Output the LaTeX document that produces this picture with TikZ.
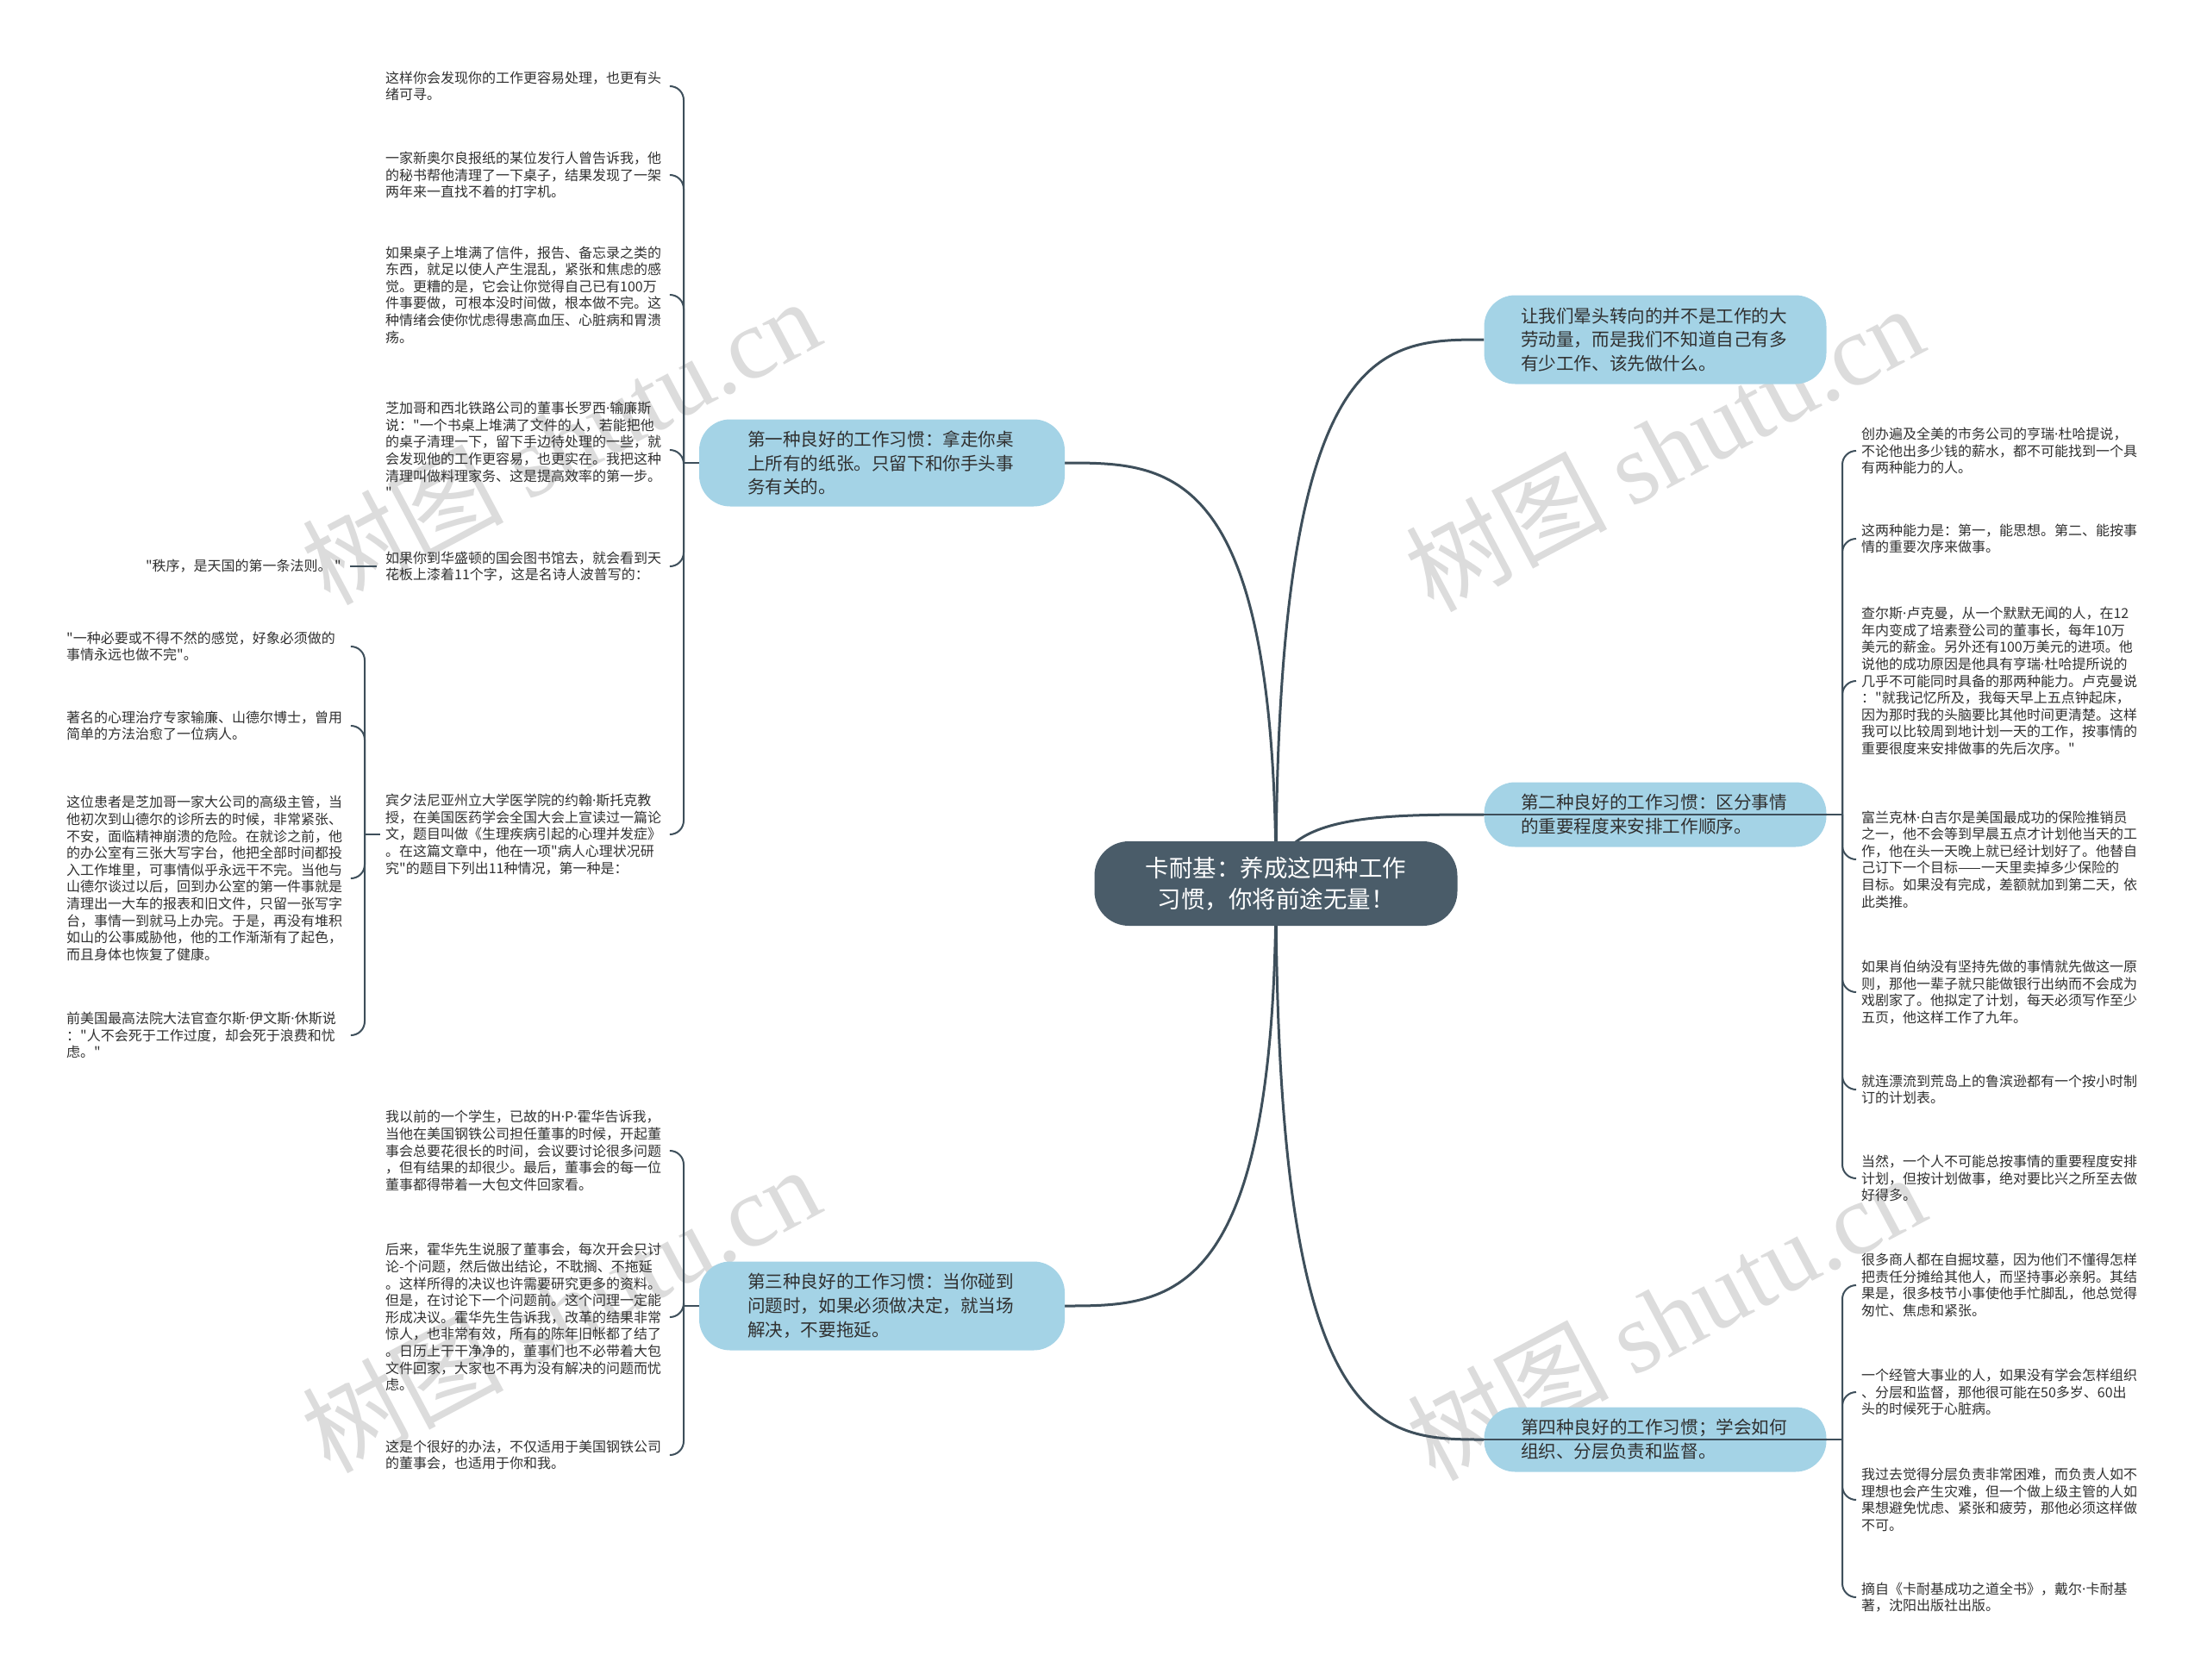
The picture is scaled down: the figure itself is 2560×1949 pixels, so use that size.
\documentclass[tikz,border=0pt]{standalone}
\usepackage{fontspec}
\newfontfamily\cjkmain{Noto Sans CJK SC}
\newfontfamily\latinpart{Noto Sans}
\newfontfamily\wmserif{Liberation Serif}
\newcommand{\mdot}{{\latinpart ·}}
\usetikzlibrary{backgrounds}
\definecolor{hubfill}{HTML}{4A5C69}
\definecolor{branchfill}{HTML}{A4D3E6}
\definecolor{wire}{HTML}{3E4F5B}
\definecolor{ink}{HTML}{303030}
\definecolor{wmgray}{HTML}{DCDCDC}
\begin{document}
\begin{tikzpicture}[x=1pt,y=-1pt,
  hubnode/.style={fill=hubfill,text=white,rounded corners=40pt,minimum width=421pt,minimum height=98pt,align=center,inner sep=0pt,font=\cjkmain\fontsize{27.5}{36}\selectfont},
  branchwide/.style={fill=branchfill,text=ink,rounded corners=36pt,text width=312pt,align=left,inner xsep=56pt,inner ysep=0pt,font=\cjkmain\fontsize{20.6}{27.8}\selectfont},
  branchnarrow/.style={branchwide,inner xsep=42.5pt},
  leaf/.style={text=ink,text width=324pt,align=left,inner xsep=6pt,inner ysep=2pt,anchor=west,font=\cjkmain\fontsize{16}{19.6}\selectfont},
  mainwire/.style={draw=wire,line width=3pt},
  leafwire/.style={draw=wire,line width=2pt,rounded corners=16pt},
  watermark/.style={text=wmgray,rotate=28,font=\cjkmain\fontsize{117}{117}\selectfont}]
\useasboundingbox (0,0) rectangle (2560,1949);

% hub and branches
\node[hubnode] (hub) at (1480,1025) {卡耐基：养成这四种工作\\习惯，你将前途无量！};
\node[branchwide,minimum height=101pt] (b1) at (1023,537) {第一种良好的工作习惯：拿走你桌\\上所有的纸张。只留下和你手头事\\务有关的。};
\node[branchnarrow,minimum height=103pt] (b2) at (1920,394) {让我们晕头转向的并不是工作的大\\劳动量，而是我们不知道自己有多\\有少工作、该先做什么。};
\node[branchnarrow,minimum height=75pt] (b3) at (1920,945) {第二种良好的工作习惯：区分事情\\的重要程度来安排工作顺序。};
\node[branchwide,minimum height=103pt] (b4) at (1023,1515) {第三种良好的工作习惯：当你碰到\\问题时，如果必须做决定，就当场\\解决，不要拖延。};
\node[branchnarrow,minimum height=75pt] (b5) at (1920,1670) {第四种良好的工作习惯；学会如何\\组织、分层负责和监督。};

% junctions
\coordinate (j1) at (793,537);
\coordinate (j6) at (423,968);
\coordinate (j4) at (793,1515);
\coordinate (j3) at (2137,945);
\coordinate (j5) at (2137,1670);

% leaves of branch 1
\node[leaf] (l1) at (441,100) {这样你会发现你的工作更容易处理，也更有头\\绪可寻。};
\node[leaf] (l2) at (441,203) {一家新奥尔良报纸的某位发行人曾告诉我，他\\的秘书帮他清理了一下桌子，结果发现了一架\\两年来一直找不着的打字机。};
\node[leaf] (l3) at (441,342) {如果桌子上堆满了信件，报告、备忘录之类的\\东西，就足以使人产生混乱，紧张和焦虑的感\\觉。更糟的是，它会让你觉得自己已有100万\\件事要做，可根本没时间做，根本做不完。这\\种情绪会使你忧虑得患高血压、心脏病和胃溃\\疡。};
\node[leaf] (l4) at (441,522) {芝加哥和西北铁路公司的董事长罗西\mdot 输廉斯\\说："一个书桌上堆满了文件的人，若能把他\\的桌子清理一下，留下手边待处理的一些，就\\会发现他的工作更容易，也更实在。我把这种\\清理叫做料理家务、这是提高效率的第一步。\\"};
\node[leaf] (l5) at (441,657) {如果你到华盛顿的国会图书馆去，就会看到天\\花板上漆着11个字，这是名诗人波普写的：};
\node[text=ink,inner sep=6pt,anchor=east,font=\cjkmain\fontsize{16}{19.6}\selectfont] (order) at (402,657) {"秩序，是天国的第一条法则。 "};
\node[leaf] (l6) at (441,968) {宾夕法尼亚州立大学医学院的约翰\mdot 斯托克教\\授，在美国医药学会全国大会上宣读过一篇论\\文，题目叫做《生理疾病引起的心理并发症》\\。在这篇文章中，他在一项"病人心理状况研\\究"的题目下列出11种情况，第一种是：};

% far-left leaves
\node[leaf] (f1) at (71,750) {"一种必要或不得不然的感觉，好象必须做的\\事情永远也做不完"。};
\node[leaf] (f2) at (71,842) {著名的心理治疗专家输廉、山德尔博士，曾用\\简单的方法治愈了一位病人。};
\node[leaf] (f3) at (71,1019) {这位患者是芝加哥一家大公司的高级主管，当\\他初次到山德尔的诊所去的时候，非常紧张、\\不安，面临精神崩溃的危险。在就诊之前，他\\的办公室有三张大写字台，他把全部时间都投\\入工作堆里，可事情似乎永远干不完。当他与\\山德尔谈过以后，回到办公室的第一件事就是\\清理出一大车的报表和旧文件，只留一张写字\\台，事情一到就马上办完。于是，再没有堆积\\如山的公事威胁他，他的工作渐渐有了起色，\\而且身体也恢复了健康。};
\node[leaf] (f4) at (71,1201) {前美国最高法院大法官查尔斯\mdot 伊文斯\mdot 休斯说\\："人不会死于工作过度，却会死于浪费和忧\\虑。"};

% leaves of branch 3 (left bottom)
\node[leaf] (m1) at (441,1335) {我以前的一个学生，已故的H\mdot P\mdot 霍华告诉我，\\当他在美国钢铁公司担任董事的时候，开起董\\事会总要花很长的时间，会议要讨论很多问题\\，但有结果的却很少。最后，董事会的每一位\\董事都得带着一大包文件回家看。};
\node[leaf] (m2) at (441,1528) {后来，霍华先生说服了董事会，每次开会只讨\\论-个问题，然后做出结论，不耽搁、不拖延\\。这样所得的决议也许需要研究更多的资料。\\但是，在讨论下一个问题前。这个问理一定能\\形成决议。霍华先生告诉我，改革的结果非常\\惊人，也非常有效，所有的陈年旧帐都了结了\\。日历上干干净净的，董事们也不必带着大包\\文件回家，大家也不再为没有解决的问题而忧\\虑。};
\node[leaf] (m3) at (441,1688) {这是个很好的办法，不仅适用于美国钢铁公司\\的董事会，也适用于你和我。};

% leaves of branch 2 (right middle)
\node[leaf] (r1) at (2153,523) {创办遍及全美的市务公司的亨瑞\mdot 杜哈提说，\\不论他出多少钱的薪水，都不可能找到一个具\\有两种能力的人。};
\node[leaf] (r2) at (2153,625) {这两种能力是：第一，能思想。第二、能按事\\情的重要次序来做事。};
\node[leaf] (r3) at (2153,790) {查尔斯\mdot 卢克曼，从一个默默无闻的人，在12\\年内变成了培素登公司的董事长，每年10万\\美元的薪金。另外还有100万美元的进项。他\\说他的成功原因是他具有亨瑞\mdot 杜哈提所说的\\几乎不可能同时具备的那两种能力。卢克曼说\\："就我记忆所及，我每天早上五点钟起床，\\因为那时我的头脑要比其他时间更清楚。这样\\我可以比较周到地计划一天的工作，按事情的\\重要很度来安排做事的先后次序。"};
\node[leaf] (r4) at (2153,997) {富兰克林\mdot 白吉尔是美国最成功的保险推销员\\之一，他不会等到早晨五点才计划他当天的工\\作，他在头一天晚上就已经计划好了。他替自\\己订下一个目标——一天里卖掉多少保险的\\目标。如果没有完成，差额就加到第二天，依\\此类推。};
\node[leaf] (r5) at (2153,1151) {如果肖伯纳没有坚持先做的事情就先做这一原\\则，那他一辈子就只能做银行出纳而不会成为\\戏剧家了。他拟定了计划，每天必须写作至少\\五页，他这样工作了九年。};
\node[leaf] (r6) at (2153,1264) {就连漂流到荒岛上的鲁滨逊都有一个按小时制\\订的计划表。};
\node[leaf] (r7) at (2153,1367) {当然，一个人不可能总按事情的重要程度安排\\计划，但按计划做事，绝对要比兴之所至去做\\好得多。};

% leaves of branch 4 (right bottom)
\node[leaf] (s1) at (2153,1491) {很多商人都在自掘坟墓，因为他们不懂得怎样\\把责任分摊给其他人，而坚持事必亲躬。其结\\果是，很多枝节小事使他手忙脚乱，他总觉得\\匆忙、焦虑和紧张。};
\node[leaf] (s2) at (2153,1615) {一个经管大事业的人，如果没有学会怎样组织\\、分层和监督，那他很可能在50多岁、60出\\头的时候死于心脏病。};
\node[leaf] (s3) at (2153,1740) {我过去觉得分层负责非常困难，而负责人如不\\理想也会产生灾难，但一个做上级主管的人如\\果想避免忧虑、紧张和疲劳，那他必须这样做\\不可。};
\node[leaf] (s4) at (2153,1853) {摘自《卡耐基成功之道全书》，戴尔\mdot 卡耐基\\著，沈阳出版社出版。};

% background: watermarks and main curves
\begin{scope}[on background layer]
\node[watermark] (wm1) at (650,511) {树图 {\wmserif shutu.cn}};
\node[watermark] (wm2) at (1930,519) {树图 {\wmserif shutu.cn}};
\node[watermark] (wm3) at (650,1518) {树图 {\wmserif shutu.cn}};
\node[watermark] (wm4) at (1932,1527) {树图 {\wmserif shutu.cn}};
\draw[mainwire] (hub.center) .. controls (1480,537) and (1357,537) .. (b1.east);
\draw[mainwire] (hub.center) .. controls (1480,394) and (1600,394) .. (b2.west);
\draw[mainwire] (hub.center) .. controls (1480,945) and (1600,945) .. (b3.west);
\draw[mainwire] (hub.center) .. controls (1480,1515) and (1357,1515) .. (b4.east);
\draw[mainwire] (hub.center) .. controls (1480,1670) and (1600,1670) .. (b5.west);
\end{scope}

% leaf connectors
\draw[leafwire] (b1.west) -- (j1);
\foreach \n in {l1,l2,l3,l4,l5,l6} \draw[leafwire] (j1) |- (\n.east);
\draw[leafwire,shorten <=4pt,shorten >=4pt] (l5.west) -- (order.east);
\draw[leafwire] (l6.west) -- (j6);
\foreach \n in {f1,f2,f3,f4} \draw[leafwire] (j6) |- (\n.east);
\draw[leafwire] (b4.west) -- (j4);
\foreach \n in {m1,m2,m3} \draw[leafwire] (j4) |- (\n.east);
\draw[leafwire] (b3.west) -- (j3);
\foreach \n in {r1,r2,r3,r4,r5,r6,r7} \draw[leafwire] (j3) |- (\n.west);
\draw[leafwire] (b5.west) -- (j5);
\foreach \n in {s1,s2,s3,s4} \draw[leafwire] (j5) |- (\n.west);
\end{tikzpicture}
\end{document}
